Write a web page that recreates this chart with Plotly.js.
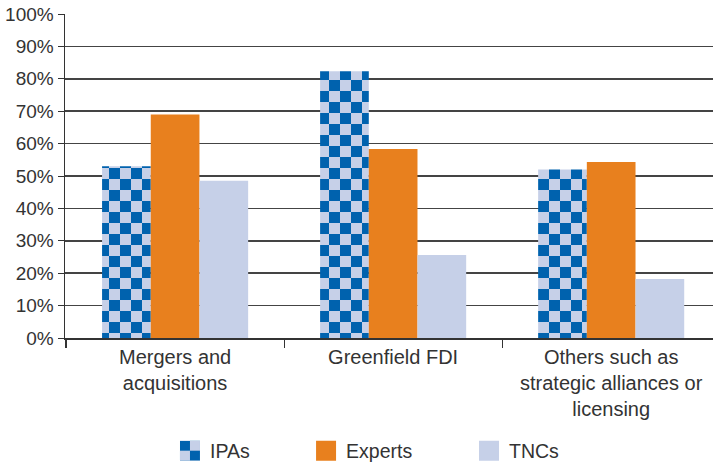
<!DOCTYPE html>
<html><head><meta charset="utf-8">
<script src="https://cdn.plot.ly/plotly-3.0.1.min.js"></script>
<style>html,body{margin:0;padding:0;background:#fff}#chart{width:713px;height:464px}</style>
</head><body><div id="chart"></div>
<script>
const categories = ["Mergers and<br>acquisitions", "Greenfield FDI", "Others such as<br>strategic alliances or<br>licensing"];
const ipas = [53, 82.3, 52];
const experts = [69, 58.3, 54.3];
const tncs = [48.5, 25.6, 18.2];
const yTickVals = [0, 10, 20, 30, 40, 50, 60, 70, 80, 90, 100];
const yTickText = ["0%", "10%", "20%", "30%", "40%", "50%", "60%", "70%", "80%", "90%", "100%"];

const DARK = "#0062AE", LIGHT = "#C6D0E8", ORANGE = "#E8801E";

const traces = [
  {type: "bar", name: "IPAs", x: categories, y: ipas, legend: "legend",
   marker: {color: LIGHT, pattern: {shape: "x", fgcolor: DARK, bgcolor: LIGHT, size: 22, solidity: 0.5}}},
  {type: "bar", name: "Experts", x: categories, y: experts, legend: "legend2", marker: {color: ORANGE}},
  {type: "bar", name: "TNCs", x: categories, y: tncs, legend: "legend3", marker: {color: LIGHT}}
];

const legBase = {orientation: "h", xanchor: "left", yanchor: "middle", yref: "container", y: 0.028,
                 font: {size: 19.5, color: "#333"}, itemwidth: 30, bgcolor: "rgba(0,0,0,0)"};

const layout = {
  width: 713, height: 464,
  margin: {l: 65, r: 0, t: 14, b: 126},
  paper_bgcolor: "#fff", plot_bgcolor: "#fff",
  font: {family: "Liberation Sans, Arial, sans-serif", size: 19, color: "#333"},
  barmode: "group", bargap: 0.33, bargroupgap: 0,
  showlegend: true,
  legend: Object.assign({}, legBase, {x: 0.162}),
  legend2: Object.assign({}, legBase, {x: 0.372}),
  legend3: Object.assign({}, legBase, {x: 0.6235}),
  xaxis: {type: "category", range: [-0.505, 2.467], showline: true, linecolor: "#333", linewidth: 1.5,
          ticks: "outside", tickson: "boundaries", ticklen: 8, tickcolor: "#333", tickwidth: 1.2,
          showgrid: false, tickfont: {size: 20, color: "#333"}, automargin: false},
  yaxis: {range: [0, 100], tickvals: yTickVals, ticktext: yTickText, showline: true, linecolor: "#333",
          linewidth: 1.5, ticks: "outside", ticklen: 6, tickcolor: "#333", showgrid: true,
          gridcolor: "#444", gridwidth: 1.5, zeroline: false, tickfont: {size: 19, color: "#333"},
          automargin: false}
};

Plotly.newPlot("chart", traces, layout, {displayModeBar: false, staticPlot: true}).then(function(gd){
  const NS = "http://www.w3.org/2000/svg";
  function fillChecker(p, s){
    p.setAttribute("width", 2*s); p.setAttribute("height", 2*s);
    p.setAttribute("patternUnits", "userSpaceOnUse");
    p.removeAttribute("patternTransform");
    while (p.firstChild) p.removeChild(p.firstChild);
    const mk = function(x, y, w, h, c){ const r = document.createElementNS(NS, "rect");
      r.setAttribute("x", x); r.setAttribute("y", y); r.setAttribute("width", w); r.setAttribute("height", h);
      r.setAttribute("fill", c); p.appendChild(r); };
    mk(0, 0, 2*s, 2*s, LIGHT); mk(0, 0, s, s, DARK); mk(s, s, s, s, DARK);
  }
  gd.querySelectorAll("pattern").forEach(function(p){ fillChecker(p, 11); });
  const defs = gd.querySelector("defs");
  const lp = document.createElementNS(NS, "pattern");
  lp.setAttribute("id", "chk-legend");
  fillChecker(lp, 10);
  defs.appendChild(lp);
  gd.querySelectorAll("g.legendpoints path").forEach(function(path){
    path.setAttribute("d", "M10,10H-10V-10H10Z");
    path.style.strokeWidth = "0";
  });
  const legPaths = gd.querySelectorAll("g.legendpoints path");
  if (legPaths.length) { legPaths[0].style.fill = "url(#chk-legend)"; }
});
</script></body></html>
